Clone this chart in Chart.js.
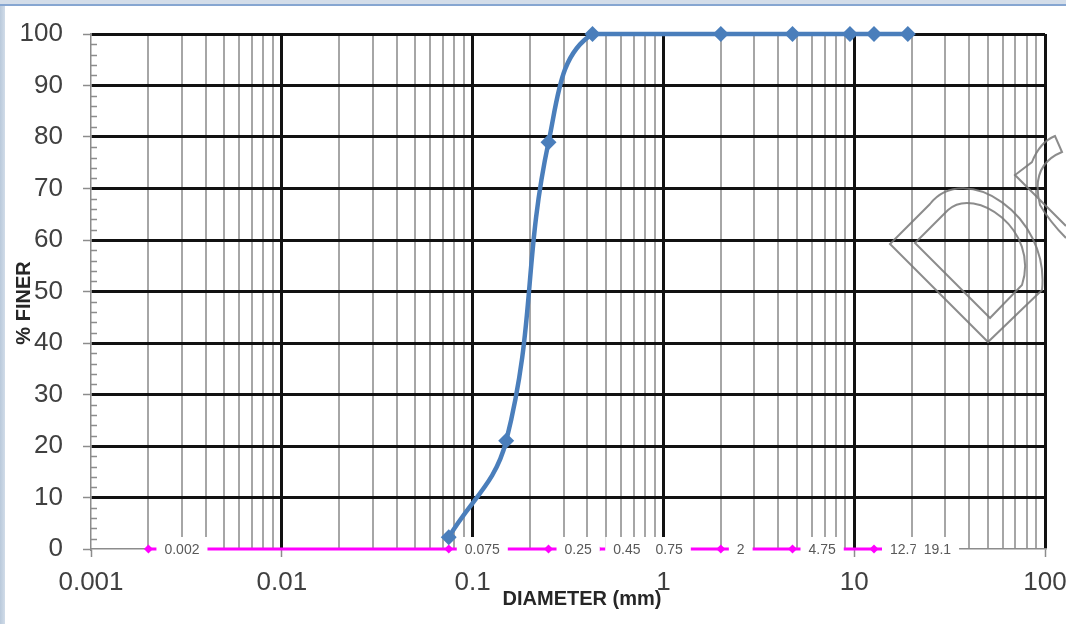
<!DOCTYPE html>
<html>
<head>
<meta charset="utf-8">
<script src="https://cdn.jsdelivr.net/npm/chart.js@4.4.0/dist/chart.umd.min.js"></script>
<style>
  html, body { margin: 0; padding: 0; background: #fff; }
  #wrap { width: 1066px; height: 624px; }
</style>
</head>
<body>
<div id="wrap"><canvas id="gradation" width="1066" height="624"></canvas></div>
<script>
// sieve analysis results
const sieveSizes = [0.075, 0.15, 0.25, 0.425, 2, 4.75, 9.5, 12.7, 19.1];
const percentFiner = [2.3, 21, 79, 100, 100, 100, 100, 100, 100];

// reference sizes marked along the base line
const markSizes = [0.002, 0.075, 0.25, 0.45, 0.75, 2, 4.75, 12.7, 19.1];
const markLevel = [0, 0, 0, 0, 0, 0, 0, 0, 0];

// axis ticks
const decades = [0.001, 0.01, 0.1, 1, 10, 100];
const decadeLabels = ['0.001', '0.01', '0.1', '1', '10', '100'];
const minorSteps = [2, 3, 4, 5, 6, 7, 8, 9];
const yTicks = [0, 10, 20, 30, 40, 50, 60, 70, 80, 90, 100];

const FONT = "'Liberation Sans', Arial, sans-serif";

let xTicks = [];
decades.forEach((d, i) => {
  xTicks.push(d);
  if (i < decades.length - 1) {
    minorSteps.forEach(m => xTicks.push(Number((d * m).toPrecision(6))));
  }
});

function isDecade(v) {
  return decades.some(d => Math.abs(v - d) / d < 1e-6);
}

const extras = {
  id: 'extras',
  beforeDraw(chart) {
    const c = chart.ctx;
    const w = chart.width, h = chart.height;
    c.save();
    c.fillStyle = '#ffffff';
    c.fillRect(0, 0, w, h);
    // slide edges
    let g = c.createLinearGradient(0, 0, 6, 0);
    g.addColorStop(0, '#b9c9db');
    g.addColorStop(1, '#d6e0eb');
    c.fillStyle = g;
    c.fillRect(0, 0, 5, h);
    c.fillStyle = '#d3dde9';
    c.fillRect(0, 0, w, 4);
    c.fillStyle = '#86a6d1';
    c.fillRect(0, 4, w, 2);
    c.restore();
  },
  afterDatasetsDraw(chart) {
    const c = chart.ctx;
    const meta = chart.getDatasetMeta(1);
    c.save();
    c.font = '14px ' + FONT;
    c.textBaseline = 'middle';
    c.textAlign = 'left';
    meta.data.forEach((pt, i) => {
      const txt = String(markSizes[i]);
      const tw = c.measureText(txt).width;
      const tx = pt.x + 16;
      c.fillStyle = '#ffffff';
      c.fillRect(tx - 8, pt.y - 12, tw + 16, 24);
      c.fillStyle = '#595959';
      c.fillText(txt, tx, pt.y + 1);
    });
    c.restore();
  },
  afterDraw(chart) {
    const c = chart.ctx;
    const area = chart.chartArea;
    const ys = chart.scales.y;
    c.save();
    // minor ticks on the inside of the value axis
    c.strokeStyle = '#8c8c8c';
    c.lineWidth = 1.5;
    c.beginPath();
    for (let v = 2; v < 100; v += 2) {
      if (v % 10 === 0) continue;
      const y = Math.round(ys.getPixelForValue(v)) + 0.5;
      c.moveTo(area.left, y);
      c.lineTo(area.left + 6, y);
    }
    c.stroke();

    // axis titles
    c.fillStyle = '#262626';
    c.font = 'bold 20px ' + FONT;
    c.textAlign = 'center';
    c.textBaseline = 'middle';
    c.fillText('DIAMETER (mm)', 582, 599);
    c.save();
    c.translate(24, 303);
    c.rotate(-Math.PI / 2);
    c.fillText('% FINER', 0, 0);
    c.restore();

    // outline logo in the corner
    c.translate(890, 244);
    c.strokeStyle = 'rgba(120,120,120,0.85)';
    c.lineWidth = 2;
    c.beginPath();
    c.moveTo(98, 98);
    c.lineTo(0, 0);
    c.lineTo(40, -40);
    c.bezierCurveTo(75, -84, 160, -29, 152, 46);
    c.closePath();
    c.moveTo(100, 74);
    c.lineTo(25, -1);
    c.lineTo(58, -34);
    c.bezierCurveTo(85, -59, 150, -14, 132, 41);
    c.closePath();
    c.moveTo(176, -18);
    c.lineTo(125, -69);
    c.lineTo(142, -82);
    c.quadraticCurveTo(150, -102, 165, -108);
    c.lineTo(172, -92);
    c.quadraticCurveTo(140, -79, 150, -39);
    c.quadraticCurveTo(160, -22, 176, -6);
    c.stroke();
    c.restore();
  }
};

const data = {
  datasets: [
    {
      label: 'Gradation',
      data: sieveSizes.map((s, i) => ({ x: s, y: percentFiner[i] })),
      borderColor: '#4a7ebb',
      backgroundColor: '#4a7ebb',
      borderWidth: 4.5,
      tension: 0.4,
      pointStyle: 'rectRot',
      pointRadius: 8,
      pointBorderWidth: 0,
      clip: false
    },
    {
      label: 'Sizes',
      data: markSizes.map((s, i) => ({ x: s, y: markLevel[i] })),
      borderColor: '#ff00ff',
      backgroundColor: '#ff00ff',
      borderWidth: 3,
      tension: 0,
      pointStyle: 'rectRot',
      pointRadius: 4.5,
      pointBorderWidth: 0,
      clip: false
    }
  ]
};

const config = {
  type: 'line',
  data: data,
  options: {
    responsive: false,
    animation: false,
    layout: { padding: { left: 0, top: 34, right: 21, bottom: 0 } },
    plugins: {
      legend: { display: false },
      tooltip: { enabled: false }
    },
    scales: {
      x: {
        type: 'logarithmic',
        min: 0.001,
        max: 100,
        afterBuildTicks: (scale) => {
          scale.ticks = xTicks.map(v => ({ value: v }));
        },
        afterFit: (scale) => {
          scale.height = 75;
          scale.paddingLeft = 0;
          scale.paddingRight = 0;
        },
        ticks: {
          autoSkip: false,
          maxRotation: 0,
          padding: 10,
          color: '#404040',
          font: { family: FONT, size: 26 },
          callback: function (value, index, ticks) {
            const v = ticks[index].value;
            const k = decades.findIndex(d => Math.abs(v - d) / d < 1e-6);
            return k >= 0 ? decadeLabels[k] : '';
          }
        },
        grid: {
          drawTicks: true,
          tickLength: 8,
          color: (ctx) => {
            if (!ctx.tick) return 'rgba(0,0,0,0)';
            if (ctx.index === 0) return 'rgba(0,0,0,0)';
            return isDecade(ctx.tick.value) ? '#111111' : '#a6a6a6';
          },
          lineWidth: (ctx) => (ctx.tick && isDecade(ctx.tick.value)) ? 3 : 2,
          tickColor: (ctx) => (ctx.tick && isDecade(ctx.tick.value)) ? '#8c8c8c' : 'rgba(0,0,0,0)',
          tickWidth: 1.5
        },
        border: { display: true, color: '#8c8c8c', width: 1.5 }
      },
      y: {
        type: 'linear',
        min: 0,
        max: 100,
        afterBuildTicks: (scale) => {
          scale.ticks = yTicks.map(v => ({ value: v }));
        },
        afterFit: (scale) => {
          scale.width = 91;
          scale.paddingTop = 0;
          scale.paddingBottom = 0;
        },
        ticks: {
          padding: 20,
          color: '#404040',
          font: { family: FONT, size: 26 },
          callback: (value) => String(value)
        },
        grid: {
          drawTicks: true,
          tickLength: 8,
          color: (ctx) => (ctx.tick && ctx.tick.value === 0) ? 'rgba(0,0,0,0)' : '#111111',
          lineWidth: 3,
          tickColor: '#8c8c8c',
          tickWidth: 1.5
        },
        border: { display: true, color: '#8c8c8c', width: 1.5 }
      }
    }
  },
  plugins: [extras]
};

new Chart(document.getElementById('gradation'), config);
</script>
</body>
</html>
